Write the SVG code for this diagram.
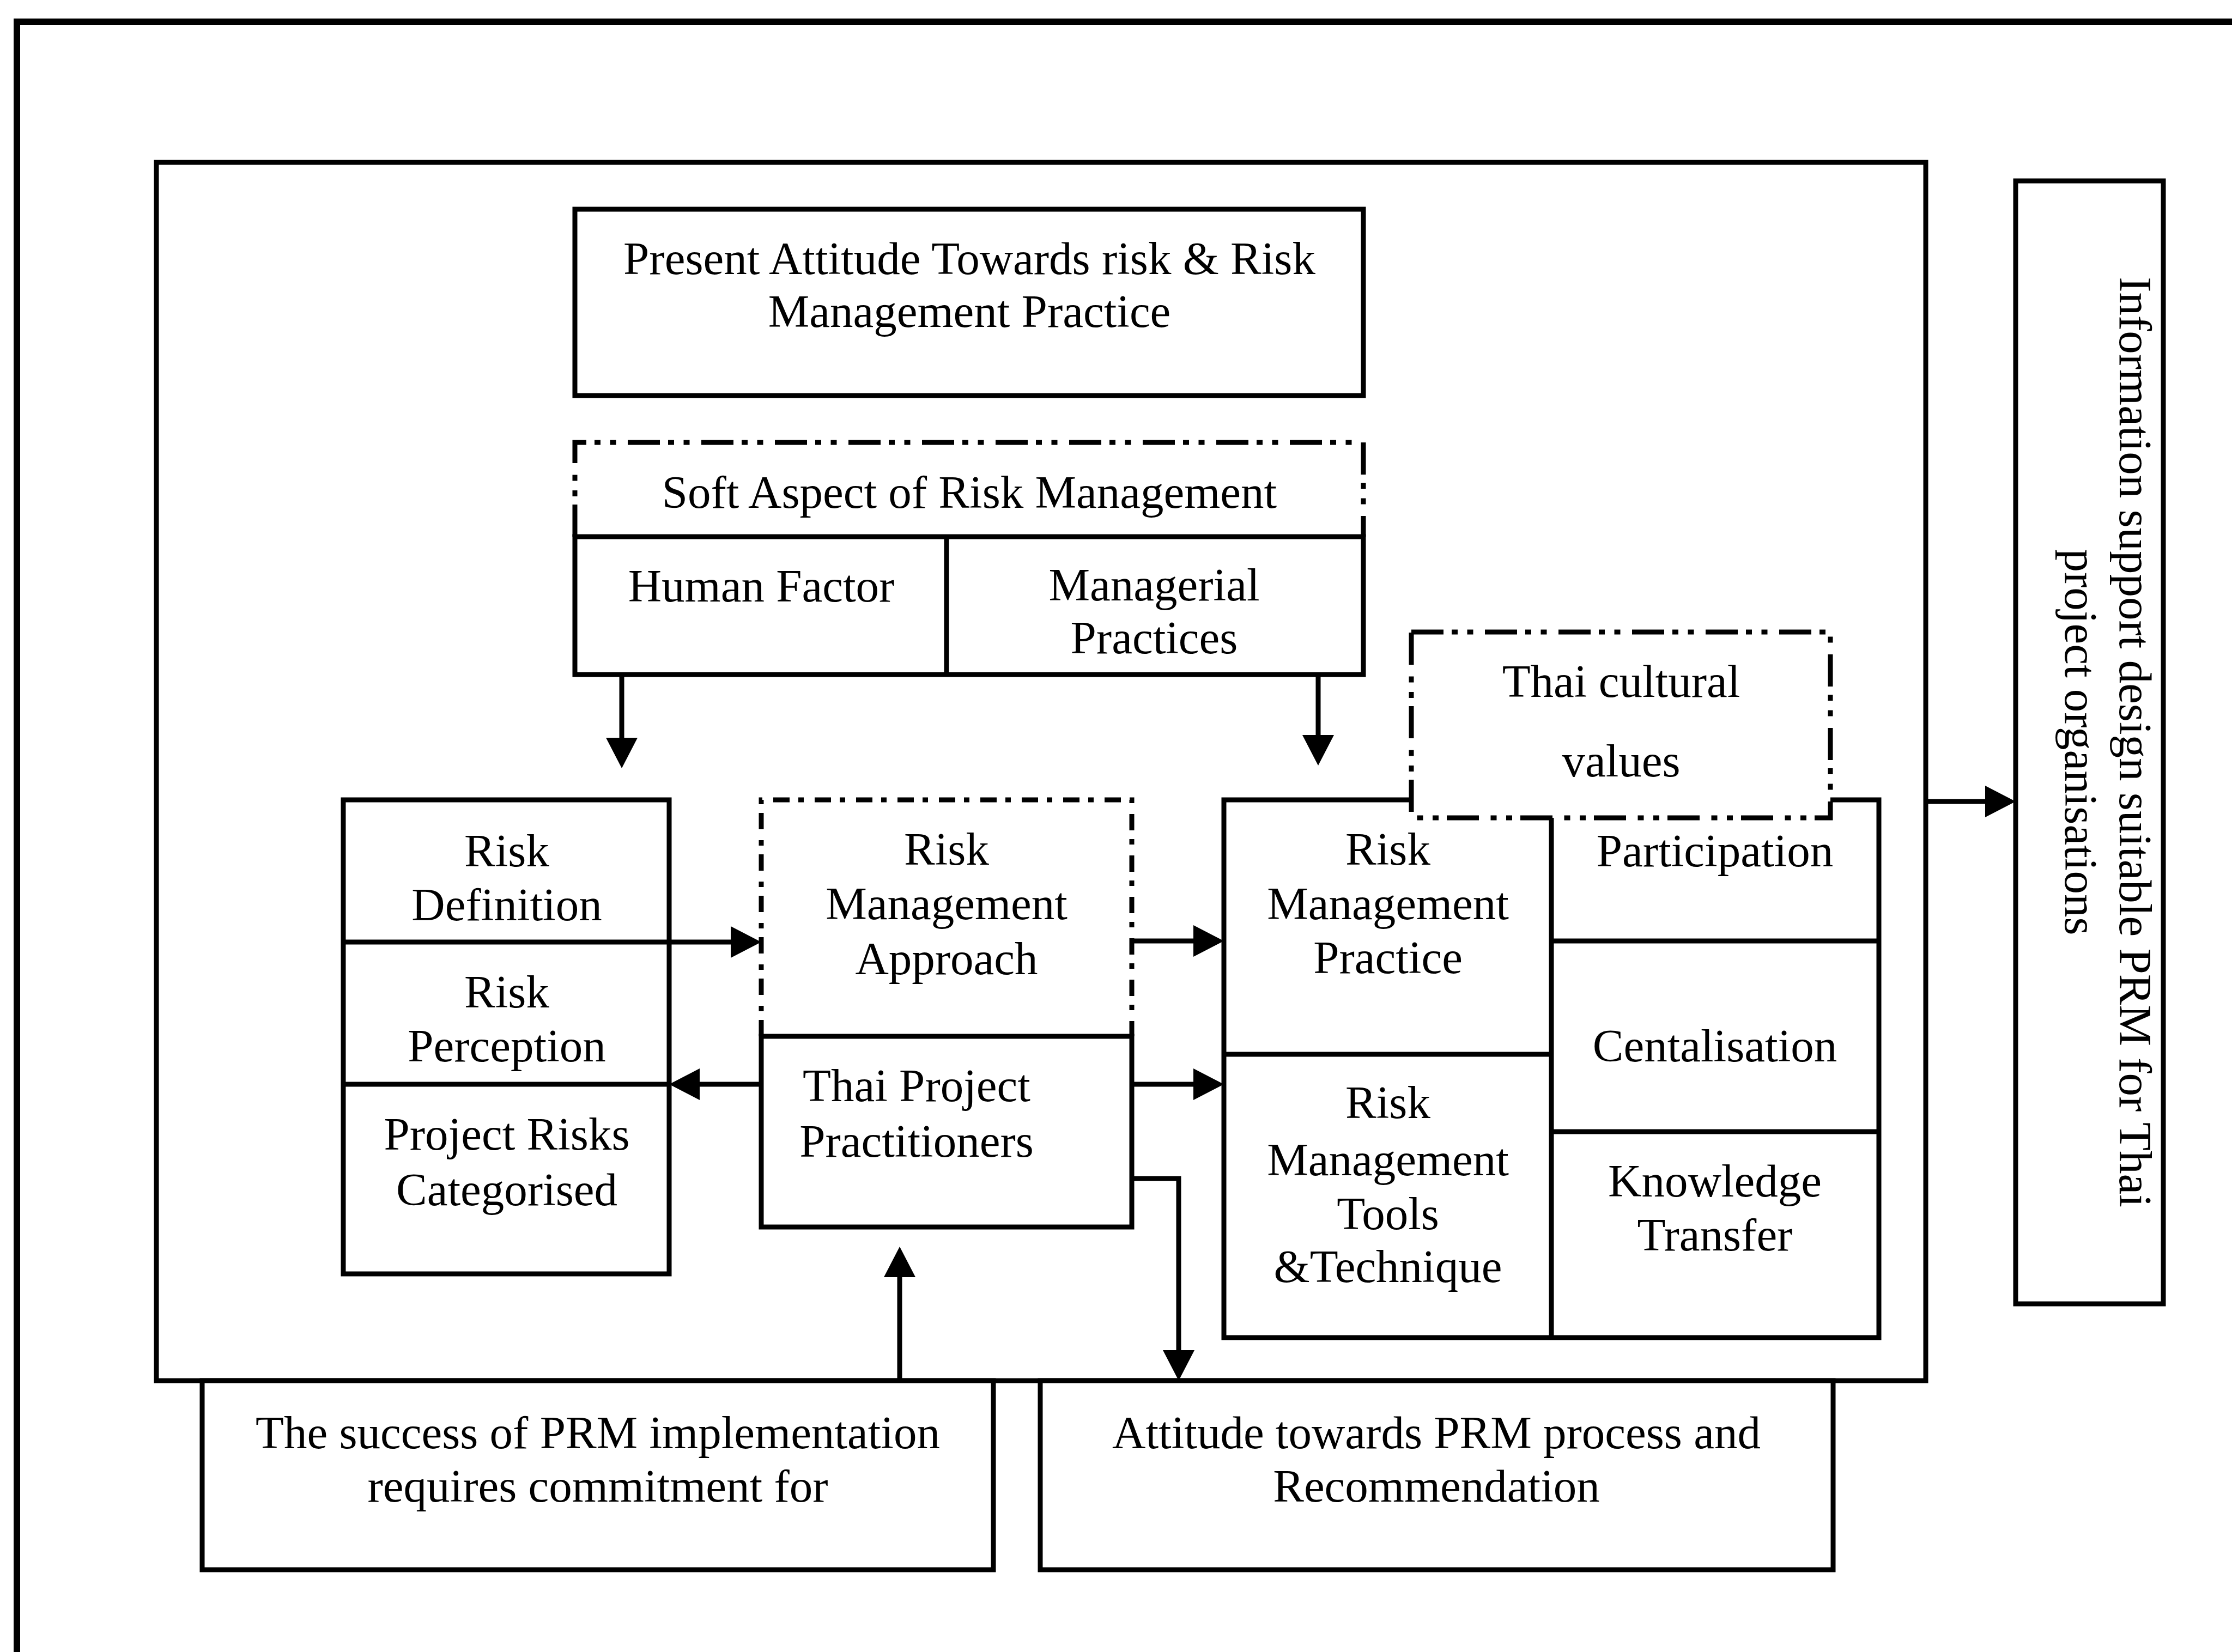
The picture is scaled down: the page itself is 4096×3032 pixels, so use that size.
<svg xmlns="http://www.w3.org/2000/svg" width="4096" height="3032" viewBox="0 0 4096 3032">
  <style>
    .box { fill: #fff; stroke: #000; stroke-width: 9; }
    .line { fill: none; stroke: #000; stroke-width: 9; }
    .dd { fill: none; stroke: #000; stroke-width: 9; stroke-dasharray: 59 15 11 17.5 11 21.5; }
    .dd-fill { fill: #fff; stroke: #000; stroke-width: 9; stroke-dasharray: 59 15 11 17.5 11 21.5; }
    .dash-dot { fill: none; stroke: #000; stroke-width: 9; stroke-dasharray: 30 16 10 20; }
    .t { font-family: "Liberation Serif", "Times New Roman", serif; font-size: 85px; text-anchor: middle; fill: #000; }
    .conn { fill: none; stroke: #000; stroke-width: 9; marker-end: url(#ah); }
  </style>
  <defs>
    <marker id="ah" markerUnits="userSpaceOnUse" viewBox="0 0 56 58" markerWidth="56" markerHeight="58" refX="36" refY="29" orient="auto">
      <path d="M0,0 L56,29 L0,58 z" fill="#000"/>
    </marker>
  </defs>

  <rect width="4096" height="3032" fill="#fff"/>

  <!-- page frame (open at right and bottom) -->
  <path d="M31,3032 V40 H4096" fill="none" stroke="#000" stroke-width="12"/>

  <!-- main enclosure -->
  <g id="enclosure">
    <rect class="box" x="287" y="298" width="3247" height="2236"/>
  </g>

  <g id="present-attitude">
    <rect class="box" x="1055" y="384" width="1447" height="342"/>
    <text class="t" x="1779" y="503">Present Attitude Towards risk &amp; Risk</text>
    <text class="t" x="1779" y="600">Management Practice</text>
  </g>

  <g id="soft-aspect">
    <path class="dd" d="M1055,985 V812 H2502 V985"/>
    <rect class="box" x="1055" y="985" width="1447" height="253"/>
    <line class="line" x1="1737" y1="985" x2="1737" y2="1238"/>
    <text class="t" x="1779" y="932">Soft Aspect of Risk Management</text>
    <text class="t" x="1397" y="1104">Human Factor</text>
    <text class="t" x="2118" y="1102">Managerial</text>
    <text class="t" x="2118" y="1199">Practices</text>
  </g>

  <g id="risk-definition-stack">
    <rect class="box" x="630" y="1468" width="598" height="870"/>
    <line class="line" x1="630" y1="1729" x2="1228" y2="1729"/>
    <line class="line" x1="630" y1="1990" x2="1228" y2="1990"/>
    <text class="t" x="930" y="1590">Risk</text>
    <text class="t" x="930" y="1689">Definition</text>
    <text class="t" x="930" y="1849">Risk</text>
    <text class="t" x="930" y="1948">Perception</text>
    <text class="t" x="930" y="2110">Project Risks</text>
    <text class="t" x="930" y="2212">Categorised</text>
  </g>

  <g id="risk-management-approach">
    <path class="dash-dot" d="M1397,1902 V1468 H2077 V1902"/>
    <text class="t" x="1737" y="1587">Risk</text>
    <text class="t" x="1737" y="1687">Management</text>
    <text class="t" x="1737" y="1788">Approach</text>
  </g>

  <g id="thai-practitioners">
    <rect class="box" x="1397" y="1902" width="680" height="350"/>
    <text class="t" x="1682" y="2021">Thai Project</text>
    <text class="t" x="1682" y="2123">Practitioners</text>
  </g>

  <g id="practice-block">
    <rect class="box" x="2246" y="1468" width="1202" height="987"/>
    <line class="line" x1="2847" y1="1468" x2="2847" y2="2455"/>
    <line class="line" x1="2246" y1="1935" x2="2847" y2="1935"/>
    <line class="line" x1="2847" y1="1727" x2="3448" y2="1727"/>
    <line class="line" x1="2847" y1="2077" x2="3448" y2="2077"/>
    <text class="t" x="2547" y="1587">Risk</text>
    <text class="t" x="2547" y="1687">Management</text>
    <text class="t" x="2547" y="1786">Practice</text>
    <text class="t" x="2547" y="2052">Risk</text>
    <text class="t" x="2547" y="2157">Management</text>
    <text class="t" x="2547" y="2256">Tools</text>
    <text class="t" x="2547" y="2353">&amp;Technique</text>
    <text class="t" x="3147" y="1590">Participation</text>
    <text class="t" x="3147" y="1948">Centalisation</text>
    <text class="t" x="3147" y="2196">Knowledge</text>
    <text class="t" x="3147" y="2295">Transfer</text>
  </g>

  <g id="thai-cultural-values">
    <rect class="dd-fill" x="2590" y="1160" width="769" height="341"/>
    <text class="t" x="2975" y="1279">Thai cultural</text>
    <text class="t" x="2975" y="1425">values</text>
  </g>

  <g id="information-support">
    <rect class="box" x="3699" y="332" width="271" height="2061"/>
    <text class="t" transform="translate(3918,1362) rotate(90)" y="28">Information support design suitable PRM for Thai</text>
    <text class="t" transform="translate(3818,1362) rotate(90)" y="28">project organisations</text>
  </g>

  <g id="prm-success">
    <rect class="box" x="371" y="2534" width="1452" height="347"/>
    <text class="t" x="1097" y="2658">The success of PRM implementation</text>
    <text class="t" x="1097" y="2756">requires commitment for</text>
  </g>

  <g id="prm-attitude">
    <rect class="box" x="1909" y="2534" width="1455" height="347"/>
    <text class="t" x="2636" y="2658">Attitude towards PRM process and</text>
    <text class="t" x="2636" y="2756">Recommendation</text>
  </g>

  <g id="connectors">
    <path class="conn" d="M1141,1238 V1390"/>
    <path class="conn" d="M2419,1238 V1385"/>
    <path class="conn" d="M1228,1729 H1377"/>
    <path class="conn" d="M1397,1990 H1248"/>
    <path class="conn" d="M2077,1727 H2226"/>
    <path class="conn" d="M2077,1990 H2226"/>
    <path class="conn" d="M2077,2163 H2163 V2514"/>
    <path class="conn" d="M1651,2534 V2308"/>
    <path class="conn" d="M3534,1471 H3679"/>
  </g>
</svg>
